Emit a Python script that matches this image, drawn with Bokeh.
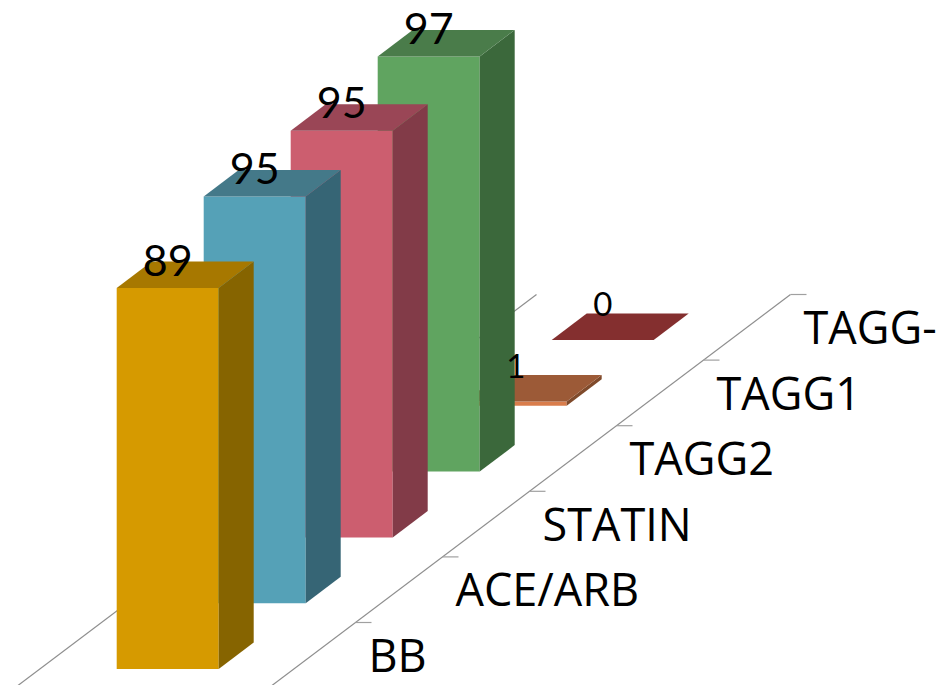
from bokeh.core.properties import value
from bokeh.embed import file_html
from bokeh.models import Range1d
from bokeh.plotting import figure
from bokeh.resources import INLINE

# Series shown along the depth axis, front to back
categories = ["BB", "ACE/ARB", "STATIN", "TAGG2", "TAGG1", "TAGG-"]
percentages = [89, 95, 95, 97, 1, 0]

front_colors = ["#D69A00", "#55A1B7", "#CC5E6F", "#60A460", "#D97D4C", "#842F2F"]
top_colors = ["#A77800", "#447989", "#9A4656", "#4A7C4A", "#9C5A37", "#842F2F"]
side_colors = ["#866400", "#366575", "#823B48", "#3B683B", "#7F4A2B", "#6A2626"]

# Oblique projection used for the pseudo-3D bars
ORIGIN_X, ORIGIN_Y = 116.2, 668.5
STEP_X, STEP_Y = 87.0, 65.8
UNIT_Y = 4.28
BAR_W = 102.0
DEPTH_X, DEPTH_Y = 35.0, 26.5
LABEL_FONT = value("Open Sans")
VALUE_FONT = value("Lato")

p = figure(
    width=936, height=685, output_backend="svg", toolbar_location=None,
    x_range=Range1d(0, 936), y_range=Range1d(685, 0),
    min_border=0, outline_line_color=None,
)
p.axis.visible = False
p.grid.visible = False
p.background_fill_color = "white"

AXIS_COLOR = "#8E8E8E"


def tick_point(i):
    return 355.0 + 87.0 * i, 622.0 - 65.6 * i


# Floor edges: front edge with ticks, back edge behind the bars
x_a, y_a = tick_point(-1.0)
x_b, y_b = tick_point(5)
p.line([x_a, x_b], [y_a, y_b], line_color=AXIS_COLOR, line_width=1.2)
p.line([x_a - 254, x_b - 254], [y_a, y_b], line_color=AXIS_COLOR, line_width=1.2)
for i in range(len(categories)):
    tx, ty = tick_point(i)
    p.line([tx, tx + 16], [ty, ty], line_color="#A0A0A0", line_width=1.2)

# Bars are painted back to front so nearer ones overlap farther ones
for i in reversed(range(len(categories))):
    left = ORIGIN_X + STEP_X * i
    right = left + BAR_W
    base = ORIGIN_Y - STEP_Y * i
    top = base - percentages[i] * UNIT_Y
    if percentages[i] > 0:
        p.patch([left, right, right, left], [base, base, top, top],
                fill_color=front_colors[i], line_color=None)
        p.patch([right, right + DEPTH_X, right + DEPTH_X, right],
                [base, base - DEPTH_Y, top - DEPTH_Y, top],
                fill_color=side_colors[i], line_color=None)
    p.patch([left, right, right + DEPTH_X, left + DEPTH_X],
            [top, top, top - DEPTH_Y, top - DEPTH_Y],
            fill_color=top_colors[i], line_color=None)

# Value labels above each bar; the near-zero ones use a smaller size
for i, pct in enumerate(percentages):
    cx = ORIGIN_X + STEP_X * i + BAR_W / 2
    top = ORIGIN_Y - STEP_Y * i - pct * UNIT_Y
    big = pct >= 10
    p.text([cx], [top - (28 if big else 36)], text=[str(pct)],
           text_font=VALUE_FONT, text_font_size="43px" if big else "33px",
           text_color="black", text_align="center", text_baseline="alphabetic")

# Category labels to the right of the front edge
for i, name in enumerate(categories):
    tx, ty = tick_point(i)
    p.text([tx + 13], [ty + 32], text=[name],
           text_font=LABEL_FONT, text_font_size="45px",
           text_color="black", text_align="left", text_baseline="alphabetic")

open("out.html", "w").write(file_html(p, INLINE))
